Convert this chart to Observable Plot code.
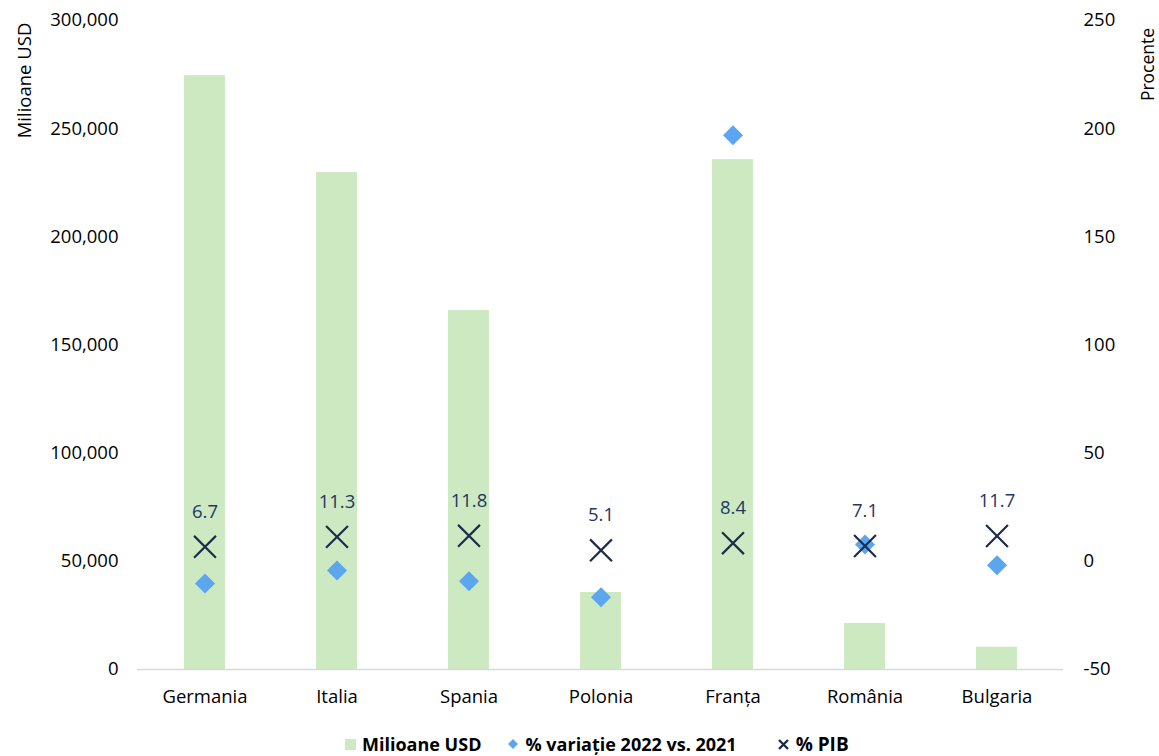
<!DOCTYPE html>
<html>
<head>
<meta charset="utf-8">
<script src="https://cdn.jsdelivr.net/npm/d3@7"></script>
<script src="https://cdn.jsdelivr.net/npm/@observablehq/plot@0.6"></script>
<style>
  body { margin: 0; background: #fff; font-family: "Open Sans", sans-serif; overflow: hidden; }
  #chart { position: relative; width: 1159px; height: 756px; }
  #legend { position: absolute; left: 345px; top: 731px; display: flex; align-items: center;
            font-weight: bold; font-size: 18px; color: #000; white-space: nowrap; }
  #legend .item { display: flex; align-items: center; }
  #legend .item.a { margin-right: 26px; }
  #legend .item.b { margin-right: 40px; }
  #legend svg { margin-right: 6px; }
  #legend .item.c { font-size: 19px; }
</style>
</head>
<body>
<div id="chart"></div>
<script>
// Ţări
const tari = ["Germania", "Italia", "Spania", "Polonia", "Franța", "România", "Bulgaria"];
// Milioane USD (axa stângă)
const milioaneUSD = [274500, 229700, 165900, 35600, 235700, 21300, 10300];
// % variaţie 2022 vs. 2021 (axa dreaptă)
const variatie = [-10.2, -4.2, -9.2, -16.6, 197, 7.8, -1.8];
// % PIB (axa dreaptă)
const pib = [6.7, 11.3, 11.8, 5.1, 8.4, 7.1, 11.7];
// Etichete axe
const ticksStanga = [0, 50000, 100000, 150000, 200000, 250000, 300000];
const ticksDreapta = [-50, 0, 50, 100, 150, 200, 250];

// Axa dreaptă (-50..250) proiectată pe axa stângă (0..300,000)
const procentLaUSD = p => (p + 50) * 1000;
const usdLaProcent = v => v / 1000 - 50;

const rows = tari.map((t, i) => ({ tara: t, usd: milioaneUSD[i], variatie: variatie[i], pib: pib[i] }));

const verde = "#cce9c2", albastru = "#5ba6ef", bleumarin = "#1b2d4b";

const plot = Plot.plot({
  width: 1159,
  height: 728,
  marginTop: 20,
  marginBottom: 59,
  marginLeft: 137,
  marginRight: 96,
  style: { fontFamily: "'Open Sans', sans-serif", fontSize: "18.5px", color: "#000", background: "#fff" },
  x: { domain: tari, paddingInner: 0.69, paddingOuter: 0.345, label: null },
  y: { domain: [0, 300000], label: null },
  marks: [
    Plot.barY(rows, { x: "tara", y: "usd", fill: verde }),
    Plot.ruleY([0], { stroke: "#d9d9d9", strokeWidth: 1.5 }),
    Plot.axisY({ ticks: ticksStanga, tickSize: 0, tickPadding: 19, tickFormat: d3.format(","), label: null }),
    Plot.axisY({ anchor: "right", ticks: ticksDreapta.map(procentLaUSD), tickFormat: v => String(usdLaProcent(v)),
                 tickSize: 0, tickPadding: 20, label: null }),
    Plot.axisX({ tickSize: 0, tickPadding: 20, label: null }),
    Plot.dot(rows, { x: "tara", y: d => procentLaUSD(d.variatie), symbol: "diamond2", r: 9, fill: albastru, stroke: null }),
    Plot.dot(rows, { x: "tara", y: d => procentLaUSD(d.pib), symbol: "times", r: 10, stroke: bleumarin, strokeWidth: 2.2 }),
    Plot.text(rows, { x: "tara", y: d => procentLaUSD(d.pib), text: d => d.pib.toFixed(1), dy: -35, fill: "#1f3864" }),
    Plot.text(["Milioane USD"], { frameAnchor: "top-left", dx: -120, dy: 60, rotate: -90, textAnchor: "middle", fill: "#000" }),
    Plot.text(["Procente"], { frameAnchor: "top-right", dx: 78, dy: 44, rotate: -90, textAnchor: "middle",
                              fontSize: 17.5, fill: "#000" })
  ]
});
document.getElementById("chart").appendChild(plot);

// Legendă
const legend = document.createElement("div");
legend.id = "legend";
legend.innerHTML = `
  <span class="item a"><svg width="11" height="11"><rect width="11" height="11" fill="${verde}"/></svg>Milioane USD</span>
  <span class="item b"><svg width="12" height="12"><path d="M6 1 L11 6 L6 11 L1 6 Z" fill="${albastru}"/></svg>% variație 2022 vs. 2021</span>
  <span class="item c"><svg width="13" height="13"><path d="M2 2 L11 11 M11 2 L2 11" stroke="${bleumarin}" stroke-width="2.4"/></svg>% PIB</span>`;
document.getElementById("chart").appendChild(legend);
</script>
</body>
</html>
